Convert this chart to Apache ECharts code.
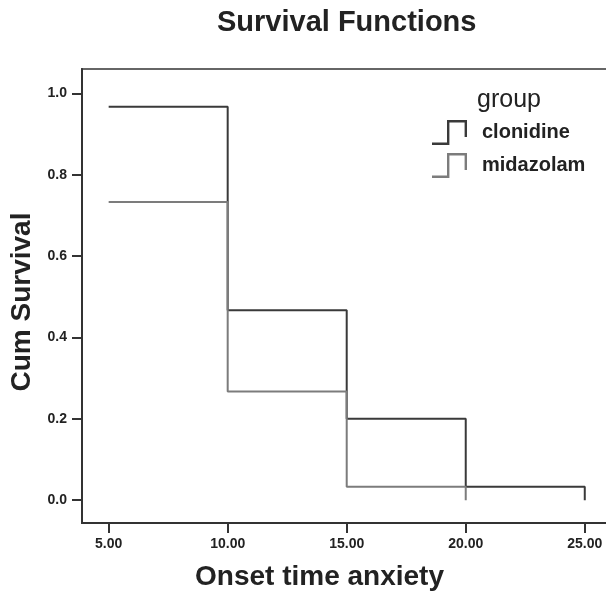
<!DOCTYPE html>
<html>
<head>
<meta charset="utf-8">
<script src="https://cdn.jsdelivr.net/npm/echarts@6/dist/echarts.min.js"></script>
<style>
html, body { margin: 0; padding: 0; background: #fff; }
#chart { width: 606px; height: 594px; }
</style>
</head>
<body>
<div id="chart"></div>
<script>
// survival step data
var times = [5, 10, 15, 20, 25];
var clonidine = [0.967, 0.467, 0.2, 0.033, 0];
var midazolam = [0.733, 0.267, 0.033, 0];
var groupNames = ["clonidine", "midazolam"];
var xTicks = [5, 10, 15, 20, 25];
var yTicks = [0, 0.2, 0.4, 0.6, 0.8, 1.0];

function toPoints(vals) {
    var pts = [];
    for (var i = 0; i < vals.length; i++) {
        pts.push([times[i], vals[i]]);
    }
    return pts;
}

// step shaped legend icon (filled outline of a thin stroke)
var stepIcon = "path://M0,22.6 L15,22.6 L15,0 L35,0 L35,17 L32.6,17 L32.6,2.4 L17.4,2.4 L17.4,25 L0,25 Z";

var font = "Liberation Sans, Arial, sans-serif";
var axisCol = "#333";

var myChart = echarts.init(document.getElementById("chart"));
var option = {
    animation: false,
    backgroundColor: "#fff",
    title: [{
        text: "Survival Functions",
        left: 212,
        top: 3,
        textStyle: { fontFamily: font, fontSize: 29, fontWeight: "bold", color: "#222" }
    }, {
        text: "group",
        left: 472,
        top: 83,
        textStyle: { fontFamily: font, fontSize: 25, fontWeight: "normal", color: "#222" }
    }],
    legend: {
        orient: "vertical",
        left: 432,
        top: 120,
        padding: 0,
        itemWidth: 35,
        itemHeight: 25,
        itemGap: 8,
        icon: stepIcon,
        itemStyle: { borderWidth: 0 },
        textStyle: { fontFamily: font, fontSize: 20, fontWeight: "bold", color: "#222", padding: [0, 0, 0, 10] },
        data: groupNames
    },
    grid: {
        left: 82,
        top: 69,
        width: 528,
        bottom: 71,
        outerBoundsMode: "none",
        containLabel: false,
        show: true,
        borderColor: "#666",
        borderWidth: 2
    },
    xAxis: {
        type: "value",
        min: 3.88,
        max: 26.06,
        name: "Onset time anxiety",
        nameLocation: "middle",
        nameGap: 40,
        nameTextStyle: { fontFamily: font, fontSize: 28, fontWeight: "bold", color: "#222", padding: [0, 53, 0, 0] },
        splitLine: { show: false },
        axisLine: { onZero: false, lineStyle: { color: axisCol, width: 2 } },
        axisTick: { length: 10, customValues: xTicks, lineStyle: { color: axisCol, width: 2 } },
        axisLabel: {
            customValues: xTicks,
            margin: 14,
            fontFamily: font,
            fontSize: 14,
            fontWeight: "bold",
            color: "#222",
            formatter: function (v) { return v.toFixed(2); }
        }
    },
    yAxis: {
        type: "value",
        min: -0.056,
        max: 1.06,
        name: "Cum Survival",
        nameLocation: "middle",
        nameGap: 43,
        nameTextStyle: { fontFamily: font, fontSize: 28, fontWeight: "bold", color: "#222", padding: [0, 12, 0, 0] },
        splitLine: { show: false },
        axisLine: { onZero: false, lineStyle: { color: axisCol, width: 2 } },
        axisTick: { length: 10, customValues: yTicks, lineStyle: { color: axisCol, width: 2 } },
        axisLabel: {
            customValues: yTicks,
            margin: 15,
            fontFamily: font,
            fontSize: 14,
            fontWeight: "bold",
            color: "#222",
            formatter: function (v) { return v.toFixed(1); }
        }
    },
    series: [{
        name: groupNames[0],
        type: "line",
        step: "end",
        showSymbol: false,
        color: "#3a3a3a",
        lineStyle: { color: "#3a3a3a", width: 2 },
        data: toPoints(clonidine)
    }, {
        name: groupNames[1],
        type: "line",
        step: "end",
        showSymbol: false,
        color: "#7c7c7c",
        lineStyle: { color: "#7c7c7c", width: 2 },
        data: toPoints(midazolam)
    }]
};
myChart.setOption(option, true);
</script>
</body>
</html>
